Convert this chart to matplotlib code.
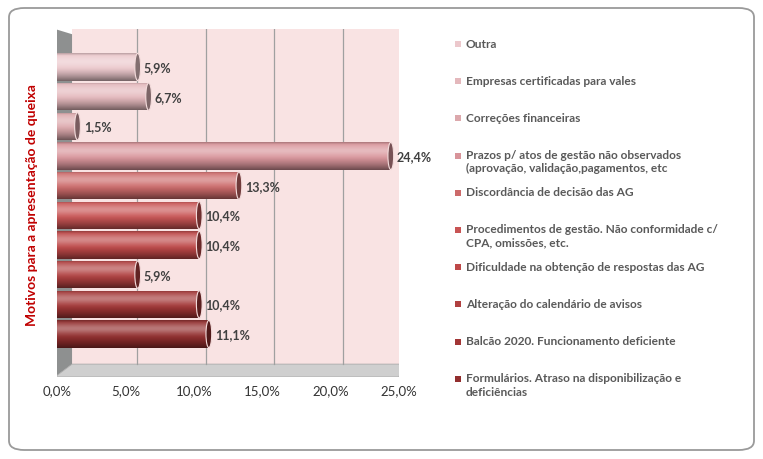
import numpy as np
import matplotlib.pyplot as plt
import matplotlib.transforms as mtransforms
from matplotlib.patches import Rectangle, Ellipse, Polygon, FancyBboxPatch
from matplotlib.colors import to_rgb

plt.rcParams['font.family'] = ['Lato', 'DejaVu Sans']

# dados (de cima para baixo)
categorias = [
    "Outra",
    "Empresas certificadas para vales",
    "Correções financeiras",
    "Prazos p/ atos de gestão não observados\n(aprovação, validação,pagamentos, etc",
    "Discordância de decisão das AG",
    "Procedimentos de gestão. Não conformidade c/\nCPA, omissões, etc.",
    "Dificuldade na obtenção de respostas das AG",
    "Alteração do calendário de avisos",
    "Balcão 2020. Funcionamento deficiente",
    "Formulários. Atraso na disponibilização e\ndeficiências",
]
valores = [5.9, 6.7, 1.5, 24.4, 13.3, 10.4, 10.4, 5.9, 10.4, 11.1]
cores = ['#ecc8cc', '#e4b8bc', '#dca8ac', '#d8949a', '#cc6a6a',
         '#c85454', '#be4848', '#b04040', '#a23636', '#922e2e']
ticks = [0, 5, 10, 15, 20, 25]
tick_labels = ["0,0%", "5,0%", "10,0%", "15,0%", "20,0%", "25,0%"]


def sombra(base, n=60):
    # perfil vertical de um cilindro: brilho em cima, escuro em baixo
    t = np.linspace(0, 1, n)[:, None]
    b = np.array(to_rgb(base))[None, :]
    hl = 0.35 * np.exp(-((t - 0.3) / 0.2) ** 2)
    dk = 0.5 * np.clip((t - 0.5) / 0.5, 0, 1) ** 1.5 + 0.2 * np.exp(-(t / 0.05) ** 2)
    c = (b * (1 - hl) + hl) * (1 - dk)
    return np.clip(c, 0, 1)[:, None, :]


fig = plt.figure(figsize=(7.63, 4.6), dpi=100)

# moldura arredondada
moldura = FancyBboxPatch((9 / 763, 9 / 460), 745 / 763, 442 / 460,
                         boxstyle="round,pad=0,rounding_size=0.02",
                         transform=fig.transFigure, facecolor='white',
                         edgecolor='#9a9a9a', linewidth=1.3, zorder=0)
fig.add_artist(moldura)

ax = fig.add_axes([57 / 763, (460 - 378) / 460, 342 / 763, (378 - 30) / 460])
ax.set_facecolor('none')
for s in ax.spines.values():
    s.set_visible(False)

# paredes do "3D"
ax.add_patch(Polygon([(0.044, 0.037), (1.009, 0.037), (1.009, 1.0), (0.044, 1.0)],
                     closed=True, transform=ax.transAxes, facecolor='#f9e3e3',
                     edgecolor='none', zorder=0))
ax.add_patch(Polygon([(-0.006, 0.0), (0.044, 0.037), (0.044, 0.985), (-0.006, 1.0)],
                     closed=True, transform=ax.transAxes, facecolor='#8e9090',
                     edgecolor='none', zorder=0.5))
ax.add_patch(Polygon([(-0.006, 0.0), (1.0, 0.0), (1.009, 0.037), (0.044, 0.037)],
                     closed=True, transform=ax.transAxes, facecolor='#cfcfcf',
                     edgecolor='#a8a8a8', linewidth=0.6, zorder=0.5))

trans_fundo = mtransforms.offset_copy(ax.get_xaxis_transform(), fig=fig,
                                      x=12, y=0, units='dots')
for v in ticks[1:]:
    ax.plot([v, v], [0.037, 1.0], transform=trans_fundo, color='#a0a0a0',
            linewidth=0.9, zorder=0.6)

h = 0.92
for i, (v, c) in enumerate(zip(valores, cores)):
    barra = Rectangle((0, i - h / 2), v, h, facecolor=c, edgecolor='none', zorder=2)
    ax.add_patch(barra)
    im = ax.imshow(sombra(c), extent=(0, v, i + h / 2, i - h / 2), aspect='auto',
                   interpolation='bilinear', zorder=2.1)
    im.set_clip_path(barra)
    ax.add_patch(Ellipse((v, i), 0.42, h, facecolor=np.array(to_rgb(c)) * 0.55,
                         edgecolor='#f4dcdc', linewidth=0.8, zorder=2.2))
    ax.text(v + 0.45, i, f"{v:.1f}%".replace('.', ','), ha='left', va='center',
            fontsize=9, fontweight='bold', color='#404040', zorder=3)

ax.set_xlim(0, 25)
ax.set_ylim(9 + 1.45, -1.28)
ax.set_xticks(ticks)
ax.set_xticklabels(tick_labels, fontsize=9.5, color='#333333')
ax.set_yticks([])
ax.tick_params(axis='x', length=0, pad=5)

fig.text(32 / 763, 1 - 205 / 460, "Motivos para a apresentação de queixa",
         rotation=90, ha='center', va='center', fontsize=10,
         fontweight='bold', color='#c00000')

# legenda manual
for i, (lab, c) in enumerate(zip(categorias, cores)):
    y = 45 + i * 37.2
    fig.add_artist(Rectangle((455 / 763, 1 - (y + 3) / 460), 6 / 763, 6 / 460,
                             transform=fig.transFigure, facecolor=c, edgecolor='none'))
    fig.text(466 / 763, 1 - (y - 6.5) / 460, lab, ha='left', va='top',
             fontsize=8.6, fontweight='bold', color='#595959', linespacing=1.25)

fig.savefig('out.png', dpi=100)
